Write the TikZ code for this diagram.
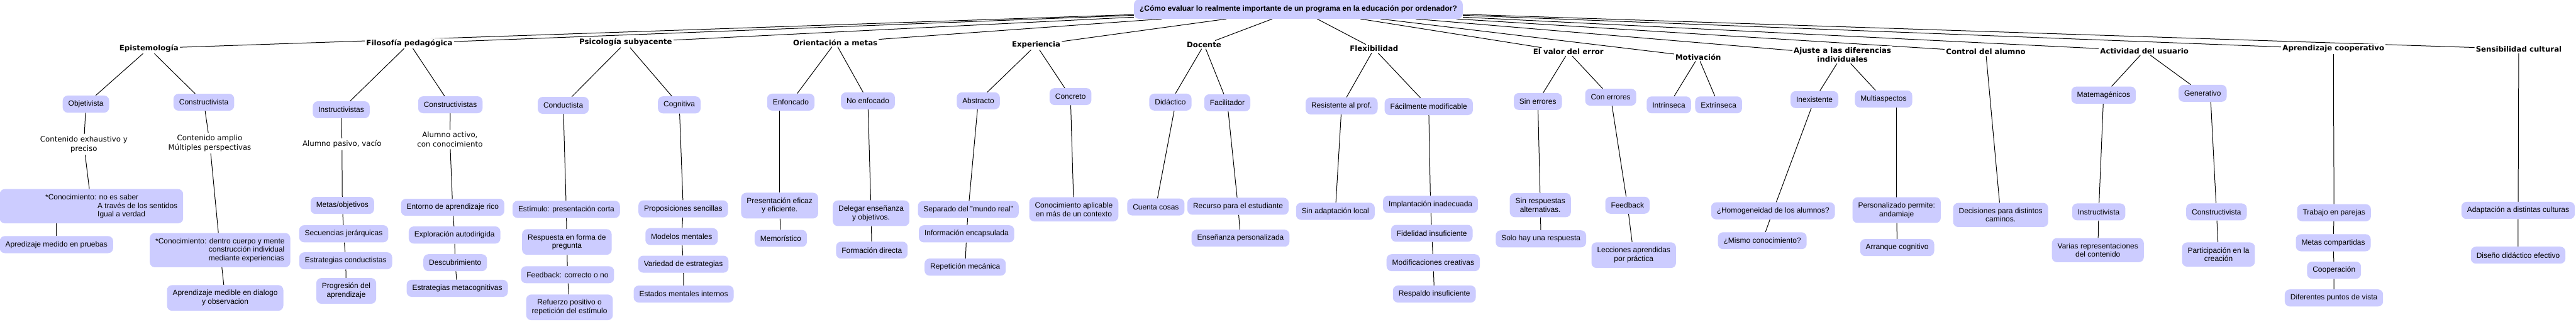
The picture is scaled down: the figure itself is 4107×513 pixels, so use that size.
\documentclass[tikz,border=0pt]{standalone}
\usepackage{fontspec}
\setmainfont{Liberation Sans}
\newfontfamily\labelfont{DejaVu Sans}
\usepackage{xcolor}
\definecolor{map-box}{HTML}{CCCCFF}
\usetikzlibrary{backgrounds}

\begin{document}
\begin{tikzpicture}[x=1pt, y=-1pt,
  box/.style={rectangle, rounded corners=8pt, fill=map-box, align=center,
              inner xsep=9pt, inner ysep=8pt, minimum height=27pt,
              font=\fontsize{12}{13.7}\selectfont},
  root/.style={box, minimum height=31pt, font=\bfseries\fontsize{12}{14}\selectfont},
  cat/.style={fill=white, inner sep=2pt, align=center,
              font=\labelfont\bfseries\fontsize{11.8}{14.3}\selectfont},
  note/.style={fill=white, inner sep=3pt, align=center,
               font=\labelfont\fontsize{11.8}{15.3}\selectfont},
  con/.style={black, line width=1pt}]

  \useasboundingbox (0,0) rectangle (4107,513);

  \node[root] (q) at (2070,14.5) {¿Cómo evaluar lo realmente importante de un programa en la educación por ordenador?};

  \node[cat] (epis)  at (237.5,77)   {Epistemología};
  \node[cat] (filo)  at (652.8,69)   {Filosofía pedagógica};
  \node[cat] (psic)  at (997.5,67.7) {Psicología subyacente};
  \node[cat] (orie)  at (1331.7,67.7) {Orientación a metas};
  \node[cat] (expe)  at (1652,71.7)  {Experiencia};
  \node[cat] (doce)  at (1919.7,71.3) {Docente};
  \node[cat] (flex)  at (2190.7,77.7) {Flexibilidad};
  \node[cat] (valor) at (2500.5,82.7) {El valor del error};
  \node[cat] (moti)  at (2707.5,90.7) {Motivación};
  \node[cat] (ajus)  at (2937.5,87.2) {Ajuste a las diferencias\\individuales};
  \node[cat] (ctrl)  at (3166,82.7)  {Control del alumno};
  \node[cat] (acti)  at (3418.8,81)  {Actividad del usuario};
  \node[cat] (coop)  at (3720.2,78)  {Aprendizaje cooperativo};
  \node[cat] (sens)  at (4015.7,78)  {Sensibilidad cultural};

  % Epistemologia
  \node[box] (objet) at (137,166) {Objetivista};
  \node[note] (exhau) at (133.7,230) {Contenido exhaustivo y\\preciso};
  \node[box, align=left, minimum width=291.7pt] (conob) at (145.8,328.8)
    {\hspace*{63.7pt}*Conocimiento: no es saber\\\hspace*{147pt}A través de los sentidos\\\hspace*{147pt}Igual a verdad};
  \node[box] (aprpr) at (90,390) {Apredizaje medido en pruebas};
  \node[box] (const) at (325,163) {Constructivista};
  \node[note] (ampli) at (334.4,228) {Contenido amplio\\Múltiples perspectivas};
  \node[box, align=left] (conco) at (350.8,398.8)
    {*Conocimiento: dentro cuerpo y mente\\\hspace*{85pt}construcción individual\\\hspace*{85pt}mediante experiencias};
  \node[box] (aprdi) at (359,475) {Aprendizaje medible en dialogo\\y observacion};

  % Filosofia pedagogica
  \node[box] (instr) at (544,175) {Instructivistas};
  \node[note] (pasiv) at (545.2,230) {Alumno pasivo, vacío};
  \node[box] (metas) at (545.8,327.5) {Metas/objetivos};
  \node[box] (secue) at (548,372.7) {Secuencias jerárquicas};
  \node[box] (estco) at (551.2,415.8) {Estrategias conductistas};
  \node[box] (progr) at (552,463.8) {Progresión del\\aprendizaje};
  \node[box] (cnsts) at (718,167) {Constructivistas};
  \node[note] (activ) at (717.3,222.5) {Alumno activo,\\con conocimiento};
  \node[box] (entor) at (721.7,330.5) {Entorno de aprendizaje rico};
  \node[box] (explo) at (724.7,374.7) {Exploración autodirigida};
  \node[box] (descu) at (725.7,418.8) {Descubrimiento};
  \node[box] (estme) at (729,459.7) {Estrategias metacognitivas};

  % Psicologia subyacente
  \node[box] (condu) at (898,168) {Conductista};
  \node[box] (estim) at (902.8,333.8) {Estímulo: presentación corta};
  \node[box] (respu) at (903.8,385.8) {Respuesta en forma de\\pregunta};
  \node[box] (feedc) at (904.8,438) {Feedback: correcto o no};
  \node[box] (refue) at (908,490) {Refuerzo positivo o\\repetición del estímulo};
  \node[box] (cogni) at (1083,167.2) {Cognitiva};
  \node[box] (propo) at (1089.3,333) {Proposiciones sencillas};
  \node[box] (model) at (1086.7,377.2) {Modelos mentales};
  \node[box] (varie) at (1089.5,421.2) {Variedad de estrategias};
  \node[box] (estad) at (1090,468.8) {Estados mentales internos};

  % Orientacion a metas
  \node[box] (enfoc) at (1260.8,162.8) {Enfoncado};
  \node[box] (prese) at (1243,327.8) {Presentación eficaz\\y eficiente.};
  \node[box] (memor) at (1244.8,380) {Memorístico};
  \node[box] (noenf) at (1383.7,160.8) {No enfocado};
  \node[box] (deleg) at (1388.8,340) {Delegar enseñanza\\y objetivos.};
  \node[box] (forma) at (1390,398.8) {Formación directa};

  % Experiencia
  \node[box] (abstr) at (1559.7,160.8) {Abstracto};
  \node[box] (separ) at (1543.8,334) {Separado del "mundo real"};
  \node[box] (infor) at (1541,372.8) {Información encapsulada};
  \node[box] (repet) at (1538.8,425.8) {Repetición mecánica};
  \node[box] (concr) at (1706.7,154) {Concreto};
  \node[box] (aplic) at (1712,333.8) {Conocimiento aplicable\\en más de un contexto};

  % Docente
  \node[box] (didac) at (1866,162.8) {Didáctico};
  \node[box] (cuent) at (1842.8,330) {Cuenta cosas};
  \node[box] (facil) at (1956.7,163.8) {Facilitador};
  \node[box] (recur) at (1973.8,328.8) {Recurso para el estudiante};
  \node[box] (ensen) at (1977.8,379.7) {Enseñanza personalizada};

  % Flexibilidad
  \node[box] (resis) at (2139,168.8) {Resistente al prof.};
  \node[box] (sinad) at (2129,336.8) {Sin adaptación local};
  \node[box] (facmo) at (2277.8,170) {Fácilmente modificable};
  \node[box] (impla) at (2280.7,325.8) {Implantación inadecuada};
  \node[box] (fidel) at (2282.8,372) {Fidelidad insuficiente};
  \node[box] (modif) at (2285,418.8) {Modificaciones creativas};
  \node[box] (respa) at (2286.8,468.8) {Respaldo insuficiente};

  % El valor del error
  \node[box] (sinerr) at (2451.8,161.8) {Sin errores};
  \node[box] (sinre) at (2455.8,327) {Sin respuestas\\alternativas.};
  \node[box] (soloh) at (2456.7,380.8) {Solo hay una respuesta};
  \node[box] (conerr) at (2568,155) {Con errores};
  \node[box] (feedb) at (2594.7,327.2) {Feedback};
  \node[box] (lecci) at (2604.7,406.8) {Lecciones aprendidas\\por práctica};

  % Motivacion
  \node[box] (intri) at (2660.7,167.2) {Intrínseca};
  \node[box] (extri) at (2740,167.2) {Extrínseca};

  % Ajuste a las diferencias
  \node[box] (inexi) at (2892.8,158.8) {Inexistente};
  \node[box] (homog) at (2826.8,336.2) {¿Homogeneidad de los alumnos?};
  \node[box] (mismo) at (2809.7,383.8) {¿Mismo conocimiento?};
  \node[box] (multi) at (3003,157.8) {Multiaspectos};
  \node[box] (perso) at (3023.8,335) {Personalizado permite:\\andamiaje};
  \node[box] (arran) at (3024.7,394.7) {Arranque cognitivo};

  % Control del alumno
  \node[box] (decis) at (3189.7,342.7) {Decisiones para distintos\\caminos.};

  % Actividad del usuario
  \node[box] (matem) at (3353.8,151.7) {Matemagénicos};
  \node[box] (instv) at (3346,337.8) {Instructivista};
  \node[box] (varia) at (3344.7,398.8) {Varias representaciones\\del contenido};
  \node[box] (gener) at (3511.7,148.8) {Generativo};
  \node[box] (cnstv) at (3533.8,337.8) {Constructivista};
  \node[box] (parti) at (3537,405.8) {Participación en la\\creación};

  % Aprendizaje cooperativo
  \node[box] (traba) at (3721.2,339.2) {Trabajo en parejas};
  \node[box] (metco) at (3720,387) {Metas compartidas};
  \node[box] (coope) at (3721.2,430.8) {Cooperación};
  \node[box] (difer) at (3721,475) {Diferentes puntos de vista};

  % Sensibilidad cultural
  \node[box] (adapt) at (4014.7,335.5) {Adaptación a distintas culturas};
  \node[box] (disen) at (4014.7,406.8) {Diseño didáctico efectivo};

  \begin{scope}[on background layer]
    \fill[white] (0,0) rectangle (4107,513);

    \draw[con] (q) -- (epis);
    \draw[con] (q) -- (filo);
    \draw[con] (q) -- (psic);
    \draw[con] (q) -- (orie);
    \draw[con] (q) -- (expe);
    \draw[con] (q) -- (doce);
    \draw[con] (q) -- (flex);
    \draw[con] (q) -- (valor);
    \draw[con] (q) -- (moti);
    \draw[con] (q) -- (ajus);
    \draw[con] (q) -- (ctrl);
    \draw[con] (q) -- (acti);
    \draw[con] (q) -- (coop);
    \draw[con] (q) -- (sens);

    \draw[con] (epis) -- (objet) -- (exhau) -- (conob);
    \draw[con] (aprpr) -- (aprpr |- conob.south);
    \draw[con] (epis) -- (const) -- (ampli) -- (conco) -- (aprdi);

    \draw[con] (filo) -- (instr) -- (pasiv) -- (metas) -- (secue) -- (estco) -- (progr);
    \draw[con] (filo) -- (cnsts) -- (activ) -- (entor) -- (explo) -- (descu) -- (estme);

    \draw[con] (psic) -- (condu) -- (estim) -- (respu) -- (feedc) -- (refue);
    \draw[con] (psic) -- (cogni) -- (propo) -- (model) -- (varie) -- (estad);

    \draw[con] (orie) -- (enfoc);
    \draw[con] (prese) -- (prese |- enfoc.south);
    \draw[con] (prese) -- (memor);
    \draw[con] (orie) -- (noenf) -- (deleg) -- (forma);

    \draw[con] (expe) -- (abstr) -- (separ) -- (infor) -- (repet);
    \draw[con] (expe) -- (concr) -- (aplic);

    \draw[con] (doce) -- (didac);
    \draw[con] ([xshift=6pt]didac.south) -- (cuent);
    \draw[con] (doce) -- (facil) -- (recur) -- (ensen);

    \draw[con] (flex) -- (resis) -- (sinad);
    \draw[con] (flex) -- (facmo) -- (impla) -- (fidel) -- (modif) -- (respa);

    \draw[con] (valor) -- (sinerr) -- (sinre) -- (soloh);
    \draw[con] (valor) -- (conerr) -- (feedb) -- (lecci);

    \draw[con] (moti) -- (intri);
    \draw[con] (moti) -- (extri);

    \draw[con] (ajus) -- (inexi) -- (homog) -- (mismo);
    \draw[con] (ajus) -- (multi);
    \draw[con] (perso) -- (perso |- multi.south);
    \draw[con] (perso) -- (arran);

    \draw[con] (ctrl) -- (decis);

    \draw[con] (acti) -- (matem) -- (instv) -- (varia);
    \draw[con] (acti) -- (gener);
    \draw[con] ([xshift=13pt]gener.south) -- (cnstv) -- (parti);

    \draw[con] (coop) -- (traba) -- (metco) -- (coope) -- (difer);

    \draw[con] (sens) -- (adapt) -- (disen);
  \end{scope}

\end{tikzpicture}
\end{document}
